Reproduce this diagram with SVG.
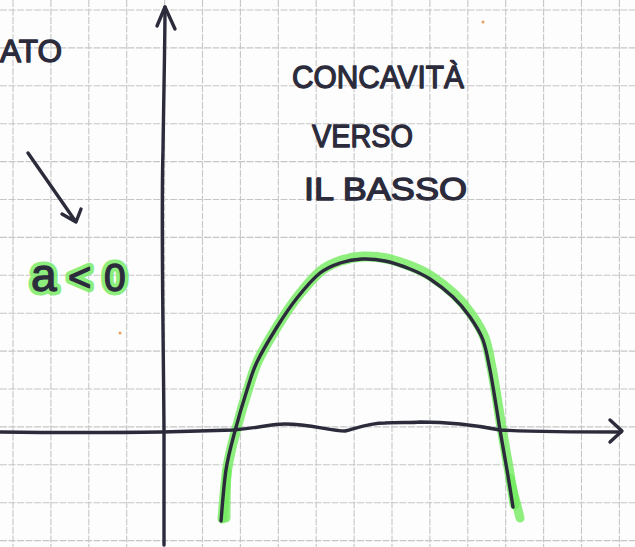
<svg xmlns="http://www.w3.org/2000/svg" width="635" height="547" viewBox="0 0 635 547">
<style>
.grid line{stroke:#c6c6c6;stroke-width:1.1;stroke-dasharray:7 1.5}
.ink{fill:none;stroke:#2b2b3c;stroke-width:3.4;stroke-linecap:round;stroke-linejoin:round}
.txt{font-family:"Liberation Sans",Arial,sans-serif;fill:#2b2b3c;stroke:#2b2b3c;stroke-width:1.3;stroke-linejoin:round}
.hl{fill:none;stroke:#72ea5e;stroke-linecap:round;stroke-linejoin:round;opacity:0.8}
</style>
<defs>
<path id="arch" d="M221,521 C221.8,512.5 223.7,485 226,470 C228.3,455 231.5,444.3 235,431 C238.5,417.7 243.3,401.5 247,390 C250.7,378.5 252,372.5 257,362 C262,351.5 270.3,337.7 277,327 C283.7,316.3 289.8,307 297,298 C304.2,289 312.8,278.8 320,273 C327.2,267.2 333,265.3 340,263 C347,260.7 354.5,259.3 362,259 C369.5,258.7 377,259.3 385,261 C393,262.7 402.5,266 410,269 C417.5,272 422.8,274.3 430,279 C437.2,283.7 446.3,290.7 453,297 C459.7,303.3 465,309.8 470,317 C475,324.2 479.7,331.2 483,340 C486.3,348.8 487.8,359.2 490,370 C492.2,380.8 494.3,395 496,405 C497.7,415 498.2,419.2 500,430 C501.8,440.8 504.8,457.2 507,470 C509.2,482.8 512,500.8 513,507"/>
</defs>
<rect width="635" height="547" fill="#fdfdfd"/>
<g class="grid" id="grid">
<line x1="13" y1="0" x2="13" y2="547"/><line x1="50.9" y1="0" x2="50.9" y2="547"/><line x1="88.8" y1="0" x2="88.8" y2="547"/><line x1="126.7" y1="0" x2="126.7" y2="547"/><line x1="164.6" y1="0" x2="164.6" y2="547"/><line x1="202.5" y1="0" x2="202.5" y2="547"/><line x1="240.4" y1="0" x2="240.4" y2="547"/><line x1="278.3" y1="0" x2="278.3" y2="547"/><line x1="316.2" y1="0" x2="316.2" y2="547"/><line x1="354.1" y1="0" x2="354.1" y2="547"/><line x1="392" y1="0" x2="392" y2="547"/><line x1="429.9" y1="0" x2="429.9" y2="547"/><line x1="467.8" y1="0" x2="467.8" y2="547"/><line x1="505.7" y1="0" x2="505.7" y2="547"/><line x1="543.6" y1="0" x2="543.6" y2="547"/><line x1="581.5" y1="0" x2="581.5" y2="547"/><line x1="619.4" y1="0" x2="619.4" y2="547"/>
<line x1="0" y1="10" x2="635" y2="10"/><line x1="0" y1="47.9" x2="635" y2="47.9"/><line x1="0" y1="85.8" x2="635" y2="85.8"/><line x1="0" y1="123.7" x2="635" y2="123.7"/><line x1="0" y1="161.6" x2="635" y2="161.6"/><line x1="0" y1="199.5" x2="635" y2="199.5"/><line x1="0" y1="237.4" x2="635" y2="237.4"/><line x1="0" y1="275.3" x2="635" y2="275.3"/><line x1="0" y1="313.2" x2="635" y2="313.2"/><line x1="0" y1="351.1" x2="635" y2="351.1"/><line x1="0" y1="389" x2="635" y2="389"/><line x1="0" y1="426.9" x2="635" y2="426.9"/><line x1="0" y1="464.8" x2="635" y2="464.8"/><line x1="0" y1="502.7" x2="635" y2="502.7"/><line x1="0" y1="540.6" x2="635" y2="540.6"/>
</g>
<g id="specks"><circle cx="483" cy="22" r="1.5" fill="#e8a060"/><circle cx="120" cy="333" r="1.5" fill="#e8a060"/></g>
<g id="parabola-highlight">
<use href="#arch" class="hl" stroke-width="10" transform="translate(1.5,-2.5)"/>
<path class="hl" stroke-width="9" d="M227,470 C226,490 226,505 226,518 M510,478 C514,495 517,505 520,518"/>
</g>
<g id="axes">
<path class="ink" d="M164,545 L164,430 C163,300 161,220 163,150 C164,80 165,40 165,7"/>
<path class="ink" d="M157,26 L165,7 L175,29"/>
<path class="ink" d="M0,432 C80,433 180,432 233,430 C260,428 270,424 285,424 C310,424 330,431 345,431 C360,427 370,423 385,423 C400,422 410,423 420,422 C450,422 470,424 500,430 C540,432 580,432 621,432"/>
<path class="ink" d="M610,420 L622,431 L610,442"/>
</g>
<g id="parabola">
<use href="#arch" class="ink"/>
</g>
<g id="arrow">
<path class="ink" d="M28,153 L76,222 M62,214 L76,222 L81,209"/>
</g>
<g id="labels">
<text class="txt" x="0" y="62" font-size="31" textLength="62" lengthAdjust="spacingAndGlyphs">ATO</text>
<text class="txt" x="292" y="88" font-size="31" textLength="172" lengthAdjust="spacingAndGlyphs">CONCAVITÀ</text>
<text class="txt" x="312" y="147" font-size="31" textLength="101" lengthAdjust="spacingAndGlyphs">VERSO</text>
<text class="txt" x="304" y="200" font-size="31" textLength="163" lengthAdjust="spacingAndGlyphs">IL BASSO</text>
</g>
<g id="condition">
<text x="31" y="291" font-family="Liberation Sans,Arial,sans-serif" fill="none" stroke="#72ea5e" stroke-width="9" stroke-linejoin="round" opacity="0.8"><tspan x="31" font-size="46">a</tspan><tspan x="68" font-size="40">&lt;</tspan><tspan x="104" font-size="39">0</tspan></text>
<text class="txt" x="31" y="291"><tspan x="31" font-size="46">a</tspan><tspan x="68" font-size="40">&lt;</tspan><tspan x="104" font-size="39">0</tspan></text>
</g>
</svg>
